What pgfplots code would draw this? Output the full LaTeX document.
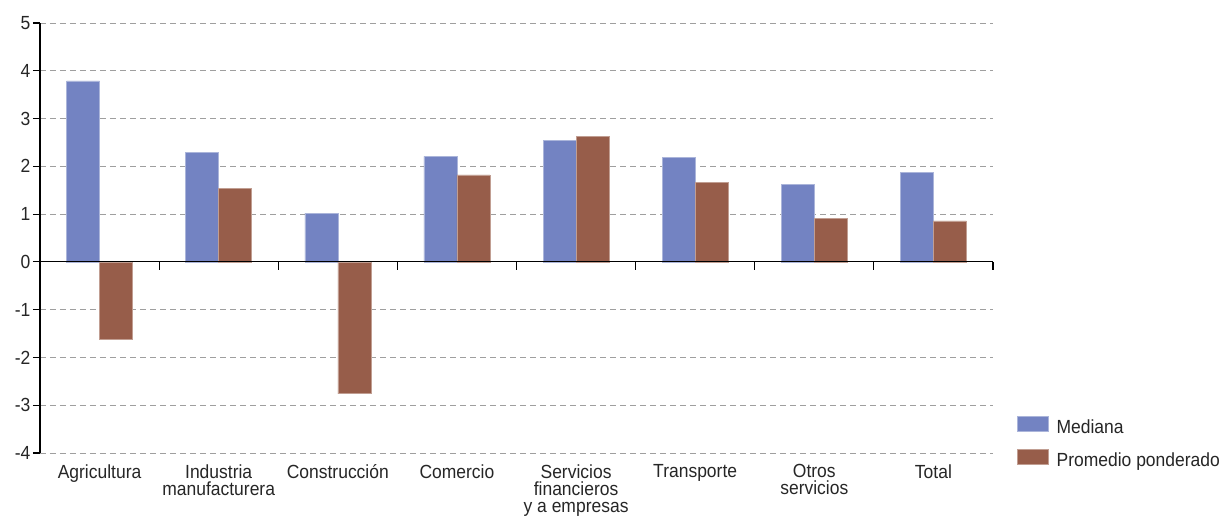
\documentclass[border=0pt]{standalone}
\usepackage{pgfplots}
\pgfplotsset{compat=1.18}
\usepackage{fontspec}
\setmainfont{Liberation Sans}[FakeStretch=0.92]
\definecolor{mediana}{HTML}{7383C2}
\definecolor{promedio}{HTML}{975D4A}
\newcommand{\lbl}{\fontsize{19pt}{17pt}\selectfont}
\begin{document}
\begin{tikzpicture}
\begin{axis}[
  name=ax,
  scale only axis,
  width=953pt, height=430pt,
  xmin=0, xmax=8,
  ymin=-4, ymax=5,
  ybar=0pt, bar width=33pt,
  axis x line=bottom,
  axis y line=left,
  axis line style={-, line width=1.1pt, black},
  x axis line style={draw=none},
  xtick={0.5,1.5,2.5,3.5,4.5,5.5,6.5,7.5},
  xticklabels={Agricultura,{Industria\\manufacturera},Construcción,Comercio,{Servicios\\financieros\\y a empresas},Transporte,{Otros\\servicios},Total},
  xtick style={draw=none},
  xticklabel style={align=center, font=\lbl, anchor=north, yshift=-1pt, text=black!85},
  ytick={-4,-3,-2,-1,0,1,2,3,4,5},
  yticklabel style={font=\lbl, text=black!85, xshift=1pt},
  /pgf/number format/assume math mode=true,
  tick align=outside,
  ytick style={line width=1.1pt, black},
  major tick length=7pt,
  ymajorgrids=true,
  grid style={dash pattern=on 6pt off 4pt, gray!75, line width=1pt},
  clip=false,
  legend style={draw=none, at={(1.025,0.086)}, anchor=north west,
    font=\lbl, text=black!85, row sep=12pt, inner sep=0pt,
    cells={anchor=west}},
  legend image code/.code={\fill[#1] (0pt,-4pt) rectangle (31pt,11pt); \path (37pt,0pt);},
]
\addplot[fill=mediana, draw=mediana!60!white, line width=0.6pt] coordinates {
  (0.5,3.79) (1.5,2.30) (2.5,1.02) (3.5,2.21) (4.5,2.55) (5.5,2.19) (6.5,1.63) (7.5,1.87)};
\addlegendentry{Mediana}
\addplot[fill=promedio, draw=promedio!60!white, line width=0.6pt] coordinates {
  (0.5,-1.63) (1.5,1.54) (2.5,-2.76) (3.5,1.82) (4.5,2.63) (5.5,1.67) (6.5,0.91) (7.5,0.86)};
\addlegendentry{Promedio ponderado}
\draw[black, line width=1.1pt] (axis cs:0,0) -- (axis cs:8,0);
\pgfplotsinvokeforeach{1,2,3,4,5,6,7,8}{
  \draw[black, line width=1.1pt] (axis cs:#1,0) -- ++(0pt,-8pt);
}
\end{axis}
\pgfresetboundingbox
\path (ax.south west) ++(-40pt,-70pt) coordinate (bl);
\path (ax.south west) ++(1187pt,453pt) coordinate (tr);
\path (bl) rectangle (tr);
\end{tikzpicture}
\end{document}
